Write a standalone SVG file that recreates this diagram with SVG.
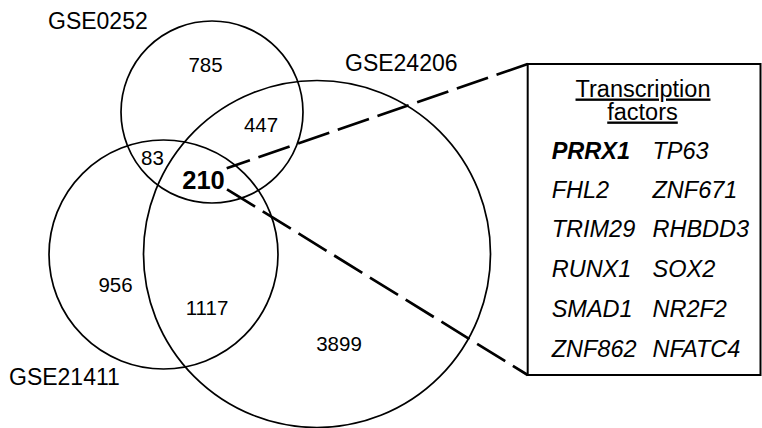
<svg xmlns="http://www.w3.org/2000/svg" width="762" height="428" viewBox="0 0 762 428">
<style>
.c{fill:none;stroke:#000;stroke-width:1.7}
.lbl{font-family:"Liberation Sans",Arial,sans-serif;font-size:23px;fill:#000}
.num{font-family:"Liberation Sans",Arial,sans-serif;font-size:20.5px;fill:#000;text-anchor:middle}
.big{font-family:"Liberation Sans",Arial,sans-serif;font-size:25.5px;font-weight:bold;fill:#000;text-anchor:middle}
.hd{font-family:"Liberation Sans",Arial,sans-serif;font-size:23.5px;fill:#000;text-anchor:middle;text-decoration:underline}
.g{font-family:"Liberation Sans",Arial,sans-serif;font-size:23.5px;font-style:italic;fill:#000}
.dash{fill:none;stroke:#000;stroke-width:2.7;stroke-dasharray:33 9}
</style>
<rect width="762" height="428" fill="#fff"/>
<g id="set-GSE0252">
<circle class="c" cx="212" cy="112" r="91"/>
<text class="lbl" x="48" y="29">GSE0252</text>
</g>
<g id="set-GSE21411">
<circle class="c" cx="163.5" cy="254.5" r="114.5"/>
<text class="lbl" x="9" y="385">GSE21411</text>
</g>
<g id="set-GSE24206">
<circle class="c" cx="317" cy="254" r="173.5"/>
<text class="lbl" x="345" y="71">GSE24206</text>
</g>
<g id="counts">
<text class="num" x="205.5" y="72">785</text>
<text class="num" x="261" y="132">447</text>
<text class="num" x="152.5" y="165">83</text>
<text class="big" x="203.5" y="188.5">210</text>
<text class="num" x="115.5" y="292">956</text>
<text class="num" x="207" y="315">1117</text>
<text class="num" x="339" y="351">3899</text>
</g>
<g id="connectors">
<line class="dash" x1="527.7" y1="64" x2="226.7" y2="168.3"/>
<line class="dash" x1="227" y1="189.3" x2="527.7" y2="375"/>
</g>
<g id="tf-box">
<rect x="527.7" y="64" width="232.8" height="311" fill="#fff" stroke="#000" stroke-width="2"/>
<text class="hd" x="643" y="96.5">Transcription</text>
<text class="hd" x="642.5" y="119.5">factors</text>
<text class="g" x="551.7" y="158.5" font-weight="bold">PRRX1</text>
<text class="g" x="652.5" y="158.5">TP63</text>
<text class="g" x="551.7" y="197.5">FHL2</text>
<text class="g" x="652.5" y="197.5">ZNF671</text>
<text class="g" x="551.7" y="236.5">TRIM29</text>
<text class="g" x="652.5" y="236.5">RHBDD3</text>
<text class="g" x="551.7" y="276.5">RUNX1</text>
<text class="g" x="652.5" y="276.5">SOX2</text>
<text class="g" x="551.7" y="316.5">SMAD1</text>
<text class="g" x="652.5" y="316.5">NR2F2</text>
<text class="g" x="551.7" y="356.5">ZNF862</text>
<text class="g" x="652.5" y="356.5">NFATC4</text>
</g>
</svg>
